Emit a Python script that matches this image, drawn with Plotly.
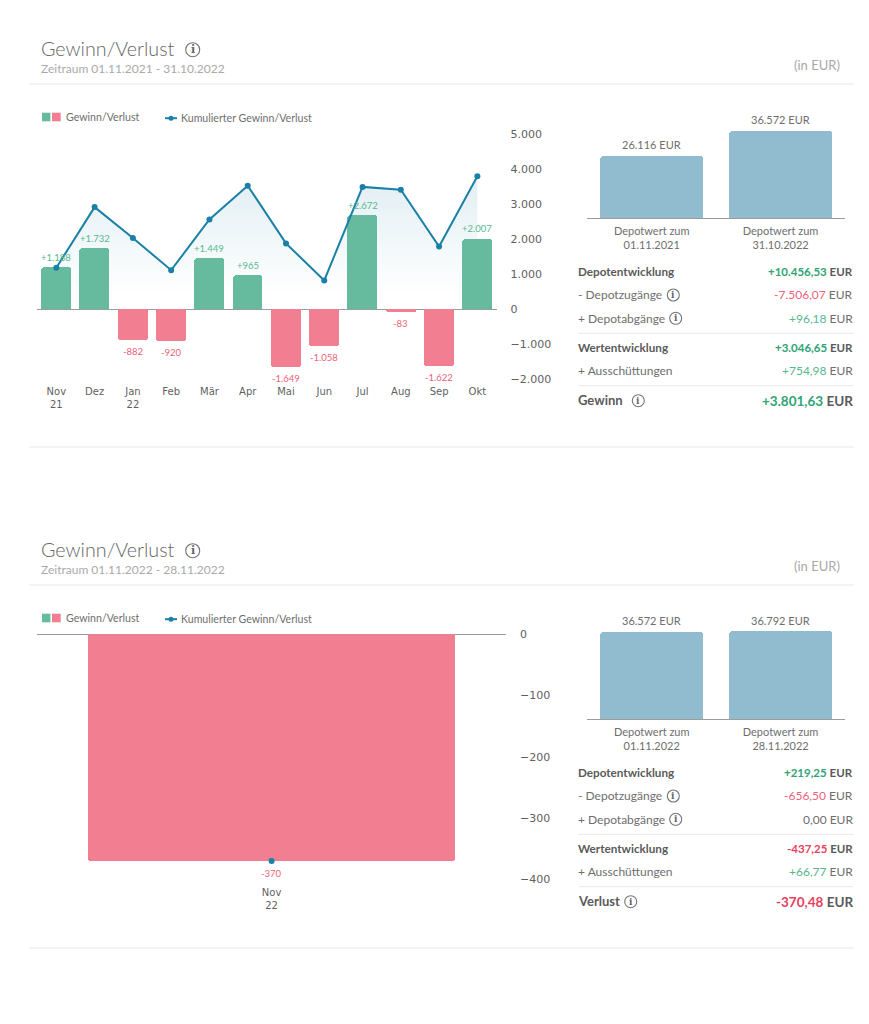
import plotly.graph_objects as go

# ---------- data ----------
months_1 = ["Nov<br>21", "Dez", "Jan<br>22", "Feb", "Mär", "Apr", "Mai", "Jun", "Jul", "Aug", "Sep", "Okt"]
gains_1 = [1188, 1732, -882, -920, 1449, 965, -1649, -1058, 2672, -83, -1622, 2007]
cumulated_1 = [1188, 2920, 2038, 1118, 2567, 3532, 1883, 825, 3497, 3414, 1792, 3799]
ticks_1 = [5000, 4000, 3000, 2000, 1000, 0, -1000, -2000]

months_2 = ["Nov<br>22"]
gains_2 = [-370]
cumulated_2 = [-370]
ticks_2 = [0, -100, -200, -300, -400]

depot_dates_1 = ["Depotwert zum<br>01.11.2021", "Depotwert zum<br>31.10.2022"]
depot_values_1 = [26116, 36572]
depot_dates_2 = ["Depotwert zum<br>01.11.2022", "Depotwert zum<br>28.11.2022"]
depot_values_2 = [36572, 36792]

rows_1 = [
    ("Depotentwicklung", "+10.456,53", True, "g"),
    ("- Depotzugänge", "-7.506,07", False, "r"),
    ("+ Depotabgänge", "+96,18", False, "g"),
    ("Wertentwicklung", "+3.046,65", True, "g"),
    ("+ Ausschüttungen", "+754,98", False, "g"),
]
total_1 = ("Gewinn", "+3.801,63", "g")
rows_2 = [
    ("Depotentwicklung", "+219,25", True, "g"),
    ("- Depotzugänge", "-656,50", False, "r"),
    ("+ Depotabgänge", "0,00", False, "n"),
    ("Wertentwicklung", "-437,25", True, "r"),
    ("+ Ausschüttungen", "+66,77", False, "g"),
]
total_2 = ("Verlust", "-370,48", "r")

# ---------- styles ----------
W, H = 869, 1024
UI = "Lato"
TICK = "DejaVu Sans"
GREEN_BAR, RED_BAR = "#66bb9f", "#f27f91"
BLUE_BAR, LINE = "#91bcd0", "#1a80a6"
GREEN_T, RED_T = "#2fa374", "#e8405f"
GREEN_L, RED_L = "#58b88f", "#ef5f7a"
DARK, MID, LIGHT = "#5a5a5a", "#6e6e6e", "#a9a9a9"
AXIS = "#9b9b9b"
SEP = "#e9e9e9"


def fx(x):
    return x / W


def fy(y):
    return 1 - y / H


def de(v, signed=True):
    s = f"{abs(v):,}".replace(",", ".")
    return ("+" if v > 0 else "-") + s if signed else s


fig = go.Figure()
ann, shp = [], []


def text(x, y, s, size=11, color=MID, anchor="left", family=UI, weight=None):
    ann.append(dict(x=fx(x), y=fy(y), xref="paper", yref="paper", text=s, showarrow=False,
                    xanchor=anchor, yanchor="middle", borderpad=0,
                    font=dict(size=size, color=color, family=family, weight=weight)))


def rect(x0, y0, x1, y1, color):
    shp.append(dict(type="rect", xref="paper", yref="paper", x0=fx(x0), x1=fx(x1), y0=fy(y0), y1=fy(y1),
                    fillcolor=color, line=dict(width=0)))


def hline(x0, x1, y, color=SEP, width=1):
    shp.append(dict(type="line", xref="paper", yref="paper", x0=fx(x0), x1=fx(x1), y0=fy(y), y1=fy(y),
                    line=dict(color=color, width=width)))


def icon(x, y, r=6.5, size=10):
    shp.append(dict(type="circle", xref="paper", yref="paper", x0=fx(x - r), x1=fx(x + r), y0=fy(y + r), y1=fy(y - r),
                    line=dict(color="#757575", width=1.1), fillcolor="white"))
    text(x, y, "<b>i</b>", size=size, color="#666666", anchor="center", family="DejaVu Serif")


def header(dy, period):
    text(40.3, 48.5 + dy, "Gewinn/Verlust", size=19.7, color="#666666", weight=300)
    icon(192.7, 49.7 + dy, r=7, size=11)
    text(40.3, 68.5 + dy, period, size=12, color=LIGHT)
    text(841, 65 + dy, "(in EUR)", size=13, color=LIGHT, anchor="right")
    hline(29, 854, 84 + dy)
    hline(29, 854, 447 + dy)
    rect(42, 112.7 + dy, 50.4, 121.3 + dy, GREEN_BAR)
    rect(52, 112.7 + dy, 60.7, 121.3 + dy, RED_BAR)
    text(65.2, 116.7 + dy, "Gewinn/Verlust", size=10.6, color=MID)
    hline(165, 177, 118.2 + dy, color=LINE, width=2)
    shp.append(dict(type="circle", xref="paper", yref="paper", x0=fx(168.5), x1=fx(173.5),
                    y0=fy(120.7 + dy), y1=fy(115.7 + dy), fillcolor=LINE, line=dict(width=0)))
    text(180.2, 118.2 + dy, "Kumulierter Gewinn/Verlust", size=10.6, color=MID)


def table(rows, total, dy):
    ys = [271.3, 294.7, 318, 347.3, 370]
    col = {"g": GREEN_T, "r": RED_T, "n": MID}
    col_l = {"g": GREEN_L, "r": RED_L, "n": MID}
    for (label, val, bold, c), y in zip(rows, ys):
        if bold:
            text(577.2, y + dy, f"<b>{label}</b>", size=11.7, color=DARK)
            text(853.5, y + dy, f'<b><span style="color:{col[c]}">{val}</span> EUR</b>', size=11.5, color=DARK, anchor="right")
        else:
            text(577.2, y + dy, label, size=12, color=MID)
            text(853.5, y + dy, f'<span style="color:{col_l[c]}">{val}</span> EUR', size=12, color=MID, anchor="right")
        if label[2:] in ("Depotzugänge", "Depotabgänge"):
            icon(673.3 if "zug" in label else 675.7, y + dy + 0.3, r=6, size=9)
    hline(578.5, 853.5, 333.3 + dy)
    hline(578.5, 853.5, 385.7 + dy)
    text(577.2, 400.3 + dy, f"<b>{total[0]}</b>", size=13, color=DARK)
    text(853.5, 400.5 + dy, f'<b><span style="color:{col[total[2]]}">{total[1]}</span> EUR</b>', size=13.5, color=DARK, anchor="right")
    icon(638.3 if total[0] == "Gewinn" else 630.7, 400.7 + dy, r=6, size=9)


# ---------- chart 1 ----------
fig.add_trace(go.Scatter(x=months_1, y=cumulated_1, xaxis="x", yaxis="y", mode="none", fill="tozeroy",
                         fillgradient=dict(type="vertical", start=400, stop=3800,
                                           colorscale=[[0, "rgba(26,128,166,0)"], [1, "rgba(26,128,166,0.13)"]]),
                         hoverinfo="skip", showlegend=False))
fig.add_trace(go.Bar(x=months_1, y=gains_1, xaxis="x", yaxis="y5", width=0.78,
                     marker=dict(color=[GREEN_BAR if v > 0 else RED_BAR for v in gains_1], line=dict(width=0)),
                     showlegend=False))
fig.add_trace(go.Scatter(x=months_1, y=cumulated_1, xaxis="x", yaxis="y5", mode="lines+markers",
                         line=dict(color=LINE, width=2), marker=dict(size=6, color=LINE), showlegend=False))
for m, v in zip(months_1, gains_1):
    ann.append(dict(x=m, y=v, xref="x", yref="y5", text=de(v), showarrow=False, xanchor="center", yanchor="middle",
                    yshift=10.5 if v > 0 else -11.5, font=dict(size=9.5, color=GREEN_L if v > 0 else RED_L, family=UI)))

# ---------- chart 2 ----------
fig.add_trace(go.Bar(x=months_2, y=gains_2, xaxis="x3", yaxis="y3", width=0.783,
                     marker=dict(color=RED_BAR, line=dict(width=0)), showlegend=False))
fig.add_trace(go.Scatter(x=months_2, y=cumulated_2, xaxis="x3", yaxis="y3", mode="markers",
                         marker=dict(size=6, color=LINE), showlegend=False))
for m, v in zip(months_2, gains_2):
    ann.append(dict(x=m, y=v, xref="x3", yref="y3", text=de(v), showarrow=False, xanchor="center", yanchor="middle",
                    yshift=-12, font=dict(size=9.5, color=RED_L, family=UI)))

# ---------- depot bars ----------
for vals, dates, xa, ya in [(depot_values_1, depot_dates_1, "x2", "y2"), (depot_values_2, depot_dates_2, "x4", "y4")]:
    fig.add_trace(go.Bar(x=dates, y=vals, xaxis=xa, yaxis=ya, width=0.8,
                         marker=dict(color=BLUE_BAR, line=dict(width=0)), showlegend=False))
    for d, v in zip(dates, vals):
        ann.append(dict(x=d, y=v, xref=xa, yref=ya, text=f"{de(v, False)} EUR", showarrow=False,
                        xanchor="center", yanchor="middle", yshift=11.5,
                        font=dict(size=11, color=MID, family=UI)))

header(0, "Zeitraum 01.11.2021 - 31.10.2022")
header(501, "Zeitraum 01.11.2022 - 28.11.2022")
table(rows_1, total_1, 0)
table(rows_2, total_2, 501)

# ---------- axes ----------
tickfont = dict(size=10, color="#5f5f5f", family=TICK)
yfont = dict(size=11, color="#5f5f5f", family=TICK)


def fmt_tick(v):
    return f"{v:,}".replace(",", ".").replace("-", "\u2212")


def xaxis(x0, x1, anchor, n, font=tickfont, standoff=5):
    return dict(domain=[fx(x0), fx(x1)], anchor=anchor, type="category", range=[-0.5, n - 0.5], showgrid=False,
                zeroline=False, showline=False, ticks="", tickfont=font, fixedrange=True, tickangle=0, automargin=False,
                ticklabelstandoff=standoff)


# main 1: 0 at y=309.3, 35 px per 1000
main1 = dict(domain=[fy(379.3), fy(134.3)], range=[-2000, 5000], showgrid=False, fixedrange=True, automargin=False)
# main 2: 0 at y=634.3, 61.3 px per 100
main2_bottom = 634.3 + 245.2
depot_scale = 2.38 / 1000
layout_axes = dict(
    xaxis=xaxis(37.2, 496.5, "y", len(months_1)),
    yaxis=dict(**main1, anchor="x", side="right", zeroline=False, tickmode="array", tickvals=ticks_1,
               ticktext=[fmt_tick(v) for v in ticks_1], tickfont=yfont, ticklabelstandoff=13, ticks=""),
    yaxis5=dict(**main1, overlaying="y", anchor="x", side="right", showticklabels=False, ticks="",
                zeroline=True, zerolinecolor=AXIS, zerolinewidth=1),
    xaxis3=xaxis(37.2, 506, "y3", len(months_2)),
    yaxis3=dict(domain=[fy(main2_bottom), fy(634.3)], range=[-400, 0], anchor="x3", side="right", showgrid=False,
                fixedrange=True, zeroline=True, zerolinecolor=AXIS, zerolinewidth=1, tickmode="array", tickvals=ticks_2,
                ticktext=[fmt_tick(v) for v in ticks_2], tickfont=yfont, ticklabelstandoff=13, ticks="", automargin=False),
)
dfont = dict(size=11, color=MID, family=UI)
for xa, ya, base in [("xaxis2", "yaxis2", 218.3), ("xaxis4", "yaxis4", 719.3)]:
    layout_axes[xa] = xaxis(587.3, 845, "y" + ya[-1], 2, font=dfont, standoff=2)
    layout_axes[xa].update(showline=True, linecolor=AXIS, linewidth=1)
    layout_axes[ya] = dict(domain=[fy(base), fy(base - 100)], range=[0, 100 / depot_scale], anchor="x" + xa[-1],
                           visible=False, fixedrange=True, automargin=False)

fig.update_layout(
    template="none", width=W, height=H, autosize=False, margin=dict(l=0, r=0, t=0, b=0, pad=0),
    paper_bgcolor="white", plot_bgcolor="rgba(0,0,0,0)", showlegend=False, bargap=0,
    barcornerradius=3, font=dict(family=UI), annotations=ann, shapes=shp, **layout_axes,
)

fig.write_html("out.html", config=dict(displayModeBar=False),
               post_script="document.body.style.margin='0';document.documentElement.style.overflow='hidden';")
